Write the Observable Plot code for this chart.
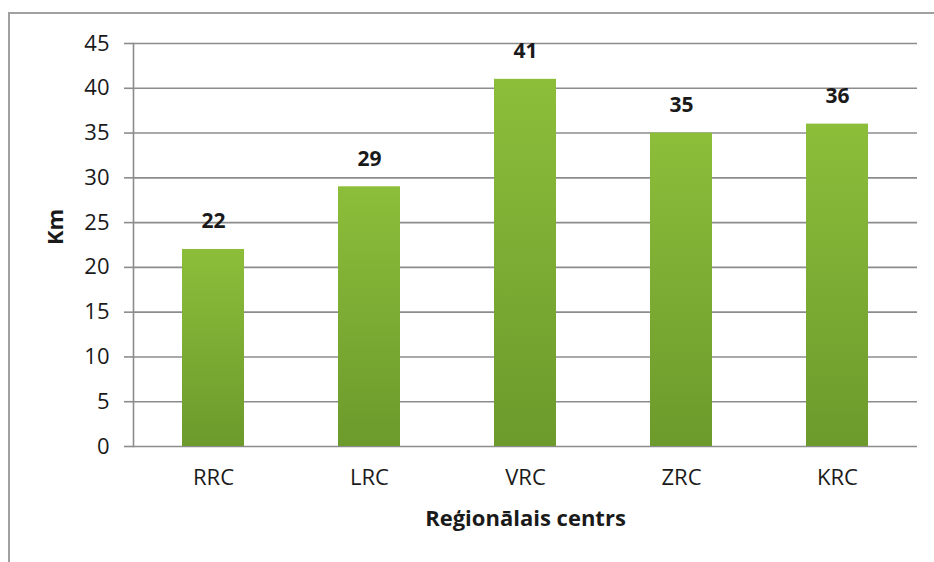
<!DOCTYPE html>
<html>
<head>
<meta charset="utf-8">
<script src="https://cdn.jsdelivr.net/npm/d3@7"></script>
<script src="https://cdn.jsdelivr.net/npm/@observablehq/plot@0.6"></script>
<style>
  html, body { margin: 0; padding: 0; background: #fff; }
  #wrap { position: relative; width: 934px; height: 562px; overflow: hidden; }
  #border { position: absolute; left: 8px; top: 12px; right: -5px; bottom: -5px;
            border-left: 2px solid #a0a0a0; border-top: 2px solid #a0a0a0; }
</style>
</head>
<body>
<div id="wrap"><div id="border"></div></div>
<script>
const categories = ["RRC", "LRC", "VRC", "ZRC", "KRC"];
const values = [22, 29, 41, 35, 36];
const yTicks = [0, 5, 10, 15, 20, 25, 30, 35, 40, 45];
const xLabel = "Reģionālais centrs";
const yLabel = "Km";

const data = categories.map((c, i) => ({c, v: values[i]}));
const font = "'Open Sans', sans-serif";

const chart = Plot.plot({
  width: 934,
  height: 562,
  marginLeft: 133,
  marginRight: 17,
  marginTop: 43,
  marginBottom: 116,
  style: {fontFamily: font, fontSize: "22px", color: "#1a1a1a", background: "transparent"},
  x: {domain: categories, paddingInner: 0.6, paddingOuter: 0.3, label: null},
  y: {domain: [0, 45], label: null},
  marks: [
    Plot.ruleY(yTicks, {stroke: "#8c8c8c", strokeWidth: 1.6, strokeOpacity: 1}),
    Plot.frame({anchor: "left", stroke: "#8c8c8c", strokeWidth: 1.6, strokeOpacity: 1}),
    Plot.axisY(yTicks, {tickSize: 9, tickPadding: 15, stroke: "#8c8c8c", strokeWidth: 1.6, fontSize: 22, fill: "#1a1a1a", label: null}),
    Plot.axisX({tickSize: 0, tickPadding: 23, fontSize: 22, fill: "#1a1a1a", label: null}),
    Plot.barY(data, {x: "c", y: "v", fill: "url(#barGrad)"}),
    Plot.text(data, {x: "c", y: "v", text: d => String(d.v), dy: -28, fontSize: 21, fontWeight: "bold", fill: "#1a1a1a"}),
    Plot.text([xLabel], {frameAnchor: "bottom", dy: 79, text: d => d, fontSize: 22, fontWeight: "bold", fill: "#1a1a1a"}),
    Plot.text([yLabel], {frameAnchor: "left", dx: -78, rotate: -90, text: d => d, fontSize: 22, fontWeight: "bold", fill: "#1a1a1a"})
  ]
});

const ns = "http://www.w3.org/2000/svg";
const defs = document.createElementNS(ns, "defs");
const grad = document.createElementNS(ns, "linearGradient");
grad.setAttribute("id", "barGrad");
grad.setAttribute("x1", "0"); grad.setAttribute("y1", "0");
grad.setAttribute("x2", "0"); grad.setAttribute("y2", "1");
[["0%", "#8cbe3a"], ["100%", "#6c9a2c"]].forEach(([o, c]) => {
  const s = document.createElementNS(ns, "stop");
  s.setAttribute("offset", o); s.setAttribute("stop-color", c);
  grad.appendChild(s);
});
defs.appendChild(grad);
chart.insertBefore(defs, chart.firstChild);
chart.style.position = "absolute";
chart.style.left = "0";
chart.style.top = "0";
document.getElementById("wrap").appendChild(chart);
</script>
</body>
</html>
